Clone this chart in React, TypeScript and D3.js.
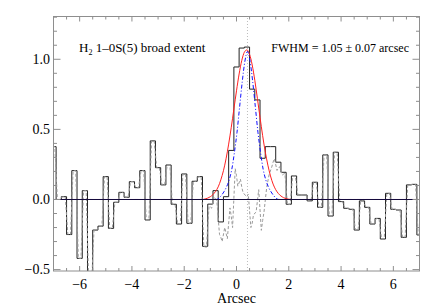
import React from 'react'
import * as d3 from 'd3'

const W = 436
const H = 305

// spatial profile, 0.2 arcsec bins centred on -7.0 ... 7.0
const binStart = -7.0
const binWidth = 0.2
const flux = [
  0.377, 0.0, 0.02, -0.25, 0.206, -0.42, 0.063, -0.62, -0.218, -0.19,
  0.163, -0.206, -0.02, 0.051, 0.016, 0.127, 0.084, 0.206, -0.146, 0.418,
  0.227, 0.104, 0.246, -0.034, -0.175, 0.182, -0.17, 0.13, 0.163, -0.334,
  -0.033, 0.063, -0.16, 0.02, 0.35,
  0.945, 1.08, 1.087, 0.787, 0.71, 0.294, 0.377, 0.377, 0.266, 0.194,
  -0.034, 0.168, 0.032, 0.032, -0.01, 0.123, -0.056, 0.318, -0.118, 0.337,
  -0.015, -0.063, -0.07, -0.218, -0.01, -0.056, -0.175, -0.135, -0.282, 0.044,
  -0.07, -0.075, -0.27, 0.104, 0.108, -0.253,
]

// residual after the red fit, inside the line region: [left, centre, right] per bin
const residStart = -1.2
const resid = [
  [-0.336, -0.338, -0.341],
  [-0.047, -0.053, -0.062],
  [0.019, 0.005, -0.014],
  [-0.25, -0.27, -0.3],
  [-0.2, -0.24, -0.28],
  [-0.06, -0.12, -0.2],
  [0.22, 0.17, 0.095],
  [0.145, 0.09, 0.05],
  [0.027, 0.02, 0.039],
  [-0.2, -0.17, -0.108],
  [-0.09, -0.01, 0.07],
  [-0.22, -0.15, -0.092],
  [0.077, 0.132, 0.179],
  [0.232, 0.267, 0.291],
  [0.207, 0.223, 0.234],
  [0.174, 0.181, 0.185],
  [-0.037, -0.036, -0.034],
]

// broad fit (red) and PSF (blue)
const redFit: [number, number][] = [
  [-7, 0], [-1.3, 0], [-1.2, 0.004], [-1.1, 0.01], [-1.0, 0.02], [-0.9, 0.035],
  [-0.8, 0.058], [-0.7, 0.09], [-0.6, 0.14], [-0.5, 0.205], [-0.4, 0.29],
  [-0.3, 0.395], [-0.2, 0.515], [-0.1, 0.645], [0.0, 0.775], [0.1, 0.895],
  [0.2, 0.99], [0.3, 1.05], [0.4, 1.067], [0.5, 1.035], [0.6, 0.96],
  [0.7, 0.85], [0.8, 0.72], [0.9, 0.585], [1.0, 0.455], [1.1, 0.34],
  [1.2, 0.245], [1.3, 0.168], [1.4, 0.11], [1.5, 0.07], [1.6, 0.043],
  [1.7, 0.025], [1.8, 0.013], [1.9, 0.006], [2.0, 0.002], [2.1, 0], [7, 0],
]
const blueFit: [number, number][] = [
  [-7, 0], [-0.78, 0], [-0.68, 0.008], [-0.58, 0.028], [-0.48, 0.055],
  [-0.38, 0.09], [-0.28, 0.14], [-0.18, 0.215], [-0.08, 0.335], [0.02, 0.48],
  [0.12, 0.662], [0.22, 0.84], [0.32, 0.985], [0.42, 1.055], [0.52, 0.985],
  [0.62, 0.84], [0.72, 0.662], [0.82, 0.48], [0.92, 0.335], [1.02, 0.215],
  [1.12, 0.14], [1.22, 0.09], [1.32, 0.055], [1.42, 0.028], [1.52, 0.008],
  [1.62, 0], [7, 0],
]

const peakX = 0.42
const xTicks = [-6, -4, -2, 0, 2, 4, 6]
const yTicks = [-0.5, 0.0, 0.5, 1.0]
const title = 'broad extent'
const fwhmLabel = 'FWHM = 1.05 ± 0.07 arcsec'

const fmt = (v: number) => (v < 0 ? '\u2212' : '') + Math.abs(v).toFixed(1)

export default function App() {
  const x = d3.scaleLinear().domain([-7, 7]).range([53.5, 419.5])
  const y = d3.scaleLinear().domain([-0.51, 1.305]).range([271, 16.5])
  const [x0, x1] = x.range()
  const [y0, y1] = y.range()

  const line = d3.line<[number, number]>().x(d => x(d[0])).y(d => y(d[1]))
  const smooth = d3.line<[number, number]>().x(d => x(d[0])).y(d => y(d[1])).curve(d3.curveMonotoneX)

  const half = binWidth / 2
  const inset = 0.05
  const steps: [number, number][] = []
  const gray: [number, number][] = []
  flux.forEach((v, i) => {
    const c = binStart + i * binWidth
    steps.push([c - half, v], [c + half, v])
    const k = Math.round((c - residStart) / binWidth)
    const r = k >= 0 && k < resid.length ? resid[k] : [v, v, v]
    gray.push([c - half + inset, r[0]], [c, r[1]], [c + half - inset, r[2]])
  })

  const xMinor = d3.range(-7, 7.001, 0.5).filter(t => t > -7 && t < 7)
  const yMinor = d3.range(-0.5, 1.31, 0.1)
  const axisColor = '#8e8e8e'
  const font = '"Liberation Serif", "Times New Roman", "DejaVu Serif", serif'

  return (
    <svg width={W} height={H} style={{ position: 'absolute', left: 0, top: 0, background: '#fff', fontFamily: font }}>
      <defs>
        <clipPath id="plot">
          <rect x={x0} y={y1} width={x1 - x0} height={y0 - y1} />
        </clipPath>
      </defs>

      <line x1={x(peakX)} x2={x(peakX)} y1={y0} y2={y1} stroke="#bdbdbd" strokeDasharray="1,2" />

      <g clipPath="url(#plot)" fill="none">
        <path d={line(steps)!} stroke="#222" strokeWidth={1} />
        <path d={line(gray)!} stroke="#9a9a9a" strokeWidth={1} strokeDasharray="3,2" />
        <path d={smooth(redFit)!} stroke="#ff2020" strokeWidth={1} />
        <path d={smooth(blueFit)!} stroke="#1010ff" strokeWidth={1} strokeDasharray="4,2,1,2" />
        <line x1={x0} x2={x1} y1={y(0)} y2={y(0)} stroke="#140a3c" strokeWidth={1.2} />
      </g>

      {/* frame */}
      <rect x={x0} y={y1} width={x1 - x0} height={y0 - y1} fill="none" stroke={axisColor} />

      {/* x ticks bottom and top */}
      {xMinor.map(t => {
        const major = xTicks.includes(t)
        const len = major ? 5 : 3
        return (
          <g key={'x' + t} stroke={axisColor}>
            <line x1={x(t)} x2={x(t)} y1={y0} y2={y0 - len} />
            <line x1={x(t)} x2={x(t)} y1={y1} y2={y1 + len} />
          </g>
        )
      })}
      {/* y ticks left and right */}
      {yMinor.map(t => {
        const major = yTicks.some(m => Math.abs(m - t) < 1e-6)
        const len = major ? 7 : 3.5
        return (
          <g key={'y' + t.toFixed(1)} stroke={axisColor}>
            <line x1={x0} x2={x0 + len} y1={y(t)} y2={y(t)} />
            <line x1={x1} x2={x1 - len} y1={y(t)} y2={y(t)} />
          </g>
        )
      })}

      {yTicks.map(t => (
        <text key={'yl' + t} x={x0 - 3.5} y={y(t)} dy="0.35em" textAnchor="end" fontSize={14} fill="#000">
          {fmt(t)}
        </text>
      ))}
      {xTicks.map(t => (
        <text key={'xl' + t} x={x(t)} y={289} textAnchor="middle" fontSize={14} fill="#000">
          {t < 0 ? '\u2212' + Math.abs(t) : String(t)}
        </text>
      ))}
      <text x={(x0 + x1) / 2} y={303} textAnchor="middle" fontSize={14} fill="#000">Arcsec</text>

      <text x={79} y={52} fontSize={13} fill="#000">
        H<tspan fontSize={8} dy={3}>2</tspan>
        <tspan dy={-3}> 1–0S(5) {title}</tspan>
      </text>
      <text x={409} y={52} textAnchor="end" fontSize={12} fill="#000">{fwhmLabel}</text>
    </svg>
  )
}
